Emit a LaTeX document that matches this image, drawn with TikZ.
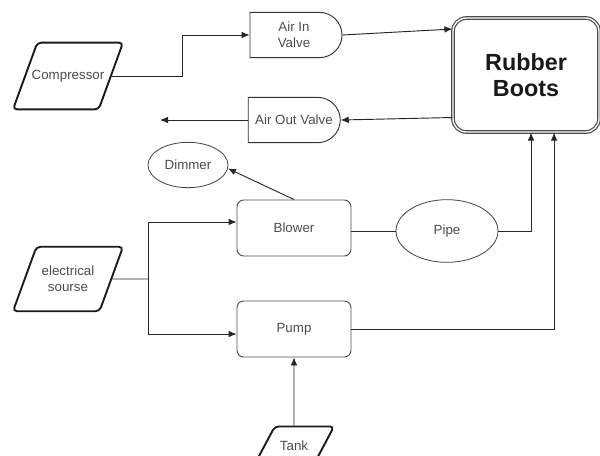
\documentclass[tikz,border=0pt]{standalone}
\usepackage{fontspec}
\setmainfont{Liberation Sans}
\usepackage{tikz}
\usetikzlibrary{arrows.meta}
\usetikzlibrary{shapes.geometric, shapes.misc}

\begin{document}
\begin{tikzpicture}[x=0.75pt, y=-0.75pt, font=\fontsize{10}{12}\selectfont,
    io/.style = {draw=black!90, line width=1.4pt, trapezium, trapezium left angle=70, trapezium right angle=110, trapezium stretches body=true, rounded corners=3pt, text=black!70, align=center, inner xsep=0pt},
    box/.style = {draw=black!70, line width=0.7pt, rectangle, rounded corners=5pt, minimum width=85.5pt, minimum height=42pt, text=black!70},
    valve/.style = {draw=black!80, line width=0.7pt, rounded rectangle, rounded rectangle left arc=none, minimum width=69pt, minimum height=34pt, text=black!70, align=center, inner sep=0pt},
    oval/.style = {draw=black!75, line width=0.6pt, ellipse, text=black!70, inner sep=0pt},
    link/.style = {draw=black!85, line width=0.7pt},
    tip/.style = {-{Latex[length=6pt, width=5pt]}}]
    \useasboundingbox (0,0) rectangle (600,455);
    \clip (0,0) rectangle (600,455);

    \node[io, minimum width=82.5pt, inner ysep=20.5pt] (cmp) at (68,76) {\makebox[0pt]{Compressor}};
    \node[io, minimum width=82.5pt, inner ysep=14.5pt] (elec) at (68,279) {electrical\\sourse};
    \node[io, minimum width=60pt, inner ysep=11pt, trapezium left angle=62, trapezium right angle=118] (tank) at (294,446) {Tank};
    \node[valve] (airin) at (294,35) {Air In\\Valve};
    \node[valve] (airout) at (294,120) {Air Out Valve};
    \node[draw=black!70, line width=0.9pt, double, double distance=1pt, rectangle, rounded corners=10pt, minimum width=109.5pt, minimum height=85.5pt, align=center, font=\fontsize{17.5}{19}\selectfont\bfseries, text=black!90] (boots) at (526,75) {Rubber\\Boots};
    \node[oval, minimum width=60pt, minimum height=34pt] (dimmer) at (188,165) {Dimmer};
    \node[box] (blower) at (294,228) {Blower};
    \node[box] (pump) at (294,329) {Pump};
    \node[oval, minimum width=76.5pt, minimum height=47pt] (pipe) at (447,231) {Pipe};

    \coordinate (bend) at (182,35);
    \coordinate (split) at (148,279);
    \coordinate (exhaust) at (160,120);

    \draw[link, tip] (cmp.east) -| (bend) -- (airin.west);
    \draw[link, tip] (airin.east) -- (boots.148);
    \draw[link, tip] (boots.210) -- (airout.east);
    \draw[link, tip] (airout.west) -- (exhaust);
    \draw[link] (elec.east) -- (split);
    \draw[link, tip] (split) |- (blower.174);
    \draw[link, tip] (split) |- (pump.185);
    \draw[link, tip] (blower.north) -- (dimmer.-5);
    \draw[link] (pipe.west -| blower.east) -- (pipe.west);
    \draw[link, tip] (pipe.east) -| (boots.-85);
    \draw[link, tip] (pump.east) -| (boots.-64);
    \draw[link, tip] (tank.north) -- (pump.south);
\end{tikzpicture}
\end{document}
